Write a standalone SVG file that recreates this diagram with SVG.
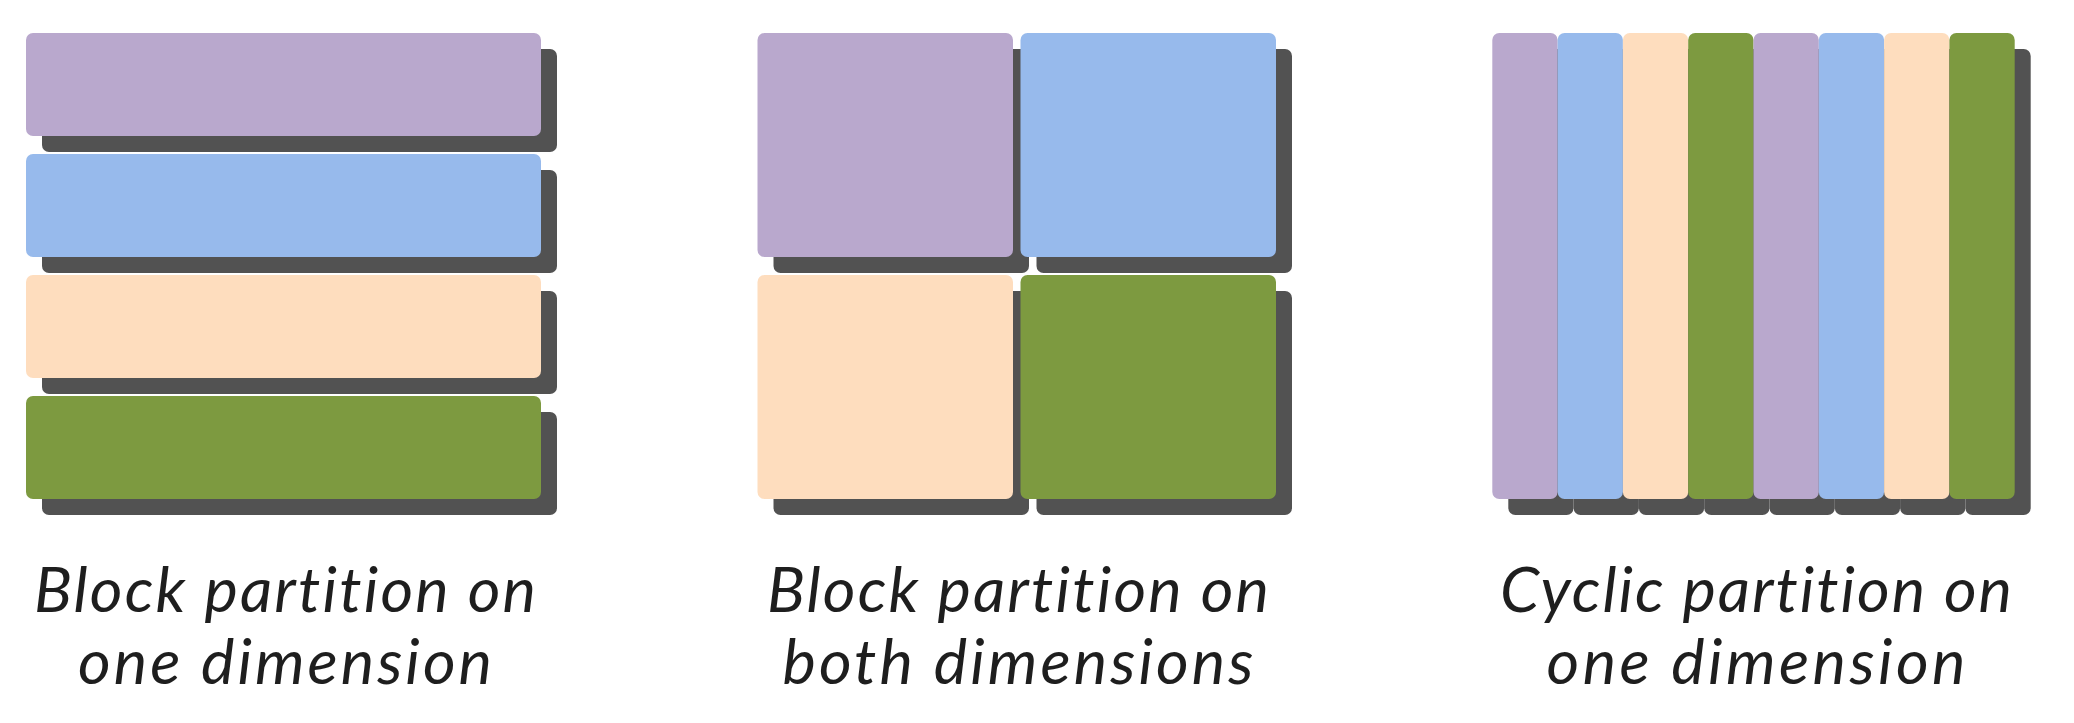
<svg xmlns="http://www.w3.org/2000/svg" width="2074" height="723" viewBox="0 0 2074 723">
<style>
.sh{fill:#525252}
.p{fill:#B9A8CD}
.b{fill:#97BAEC}
.o{fill:#FEDDBE}
.g{fill:#7D9A40}
.lbl{font-family:Lato,"Open Sans","Liberation Sans",sans-serif;font-style:italic;font-size:63px;fill:#1E1E1E;text-anchor:middle;font-variant-ligatures:none;font-feature-settings:"liga" 0,"dlig" 0}
</style>
<rect width="2074" height="723" fill="#fff"/>
<g id="panel1">
<rect class="sh" x="42" y="49" width="515" height="103" rx="7"/>
<rect class="p" x="26" y="33" width="515" height="103" rx="7"/>
<rect class="sh" x="42" y="170" width="515" height="103" rx="7"/>
<rect class="b" x="26" y="154" width="515" height="103" rx="7"/>
<rect class="sh" x="42" y="291" width="515" height="103" rx="7"/>
<rect class="o" x="26" y="275" width="515" height="103" rx="7"/>
<rect class="sh" x="42" y="412" width="515" height="103" rx="7"/>
<rect class="g" x="26" y="396" width="515" height="103" rx="7"/>
<text class="lbl" x="285" y="612" textLength="502" lengthAdjust="spacing">Block partition on</text>
<text class="lbl" x="285" y="684" textLength="414" lengthAdjust="spacing">one dimension</text>
</g>
<g id="panel2">
<rect class="sh" x="773.5" y="49" width="255.5" height="224" rx="7"/>
<rect class="sh" x="1036.5" y="49" width="255.5" height="224" rx="7"/>
<rect class="p" x="757.5" y="33" width="255.5" height="224" rx="7"/>
<rect class="b" x="1020.5" y="33" width="255.5" height="224" rx="7"/>
<rect class="sh" x="773.5" y="291" width="255.5" height="224" rx="7"/>
<rect class="sh" x="1036.5" y="291" width="255.5" height="224" rx="7"/>
<rect class="o" x="757.5" y="275" width="255.5" height="224" rx="7"/>
<rect class="g" x="1020.5" y="275" width="255.5" height="224" rx="7"/>
<text class="lbl" x="1018" y="612" textLength="502" lengthAdjust="spacing">Block partition on</text>
<text class="lbl" x="1018" y="684" textLength="471" lengthAdjust="spacing">both dimensions</text>
</g>
<g id="panel3">
<rect class="sh" x="1508.3" y="49" width="65.3" height="466" rx="7"/>
<rect class="sh" x="1573.6" y="49" width="65.3" height="466" rx="7"/>
<rect class="sh" x="1638.9" y="49" width="65.3" height="466" rx="7"/>
<rect class="sh" x="1704.2" y="49" width="65.3" height="466" rx="7"/>
<rect class="sh" x="1769.5" y="49" width="65.3" height="466" rx="7"/>
<rect class="sh" x="1834.8" y="49" width="65.3" height="466" rx="7"/>
<rect class="sh" x="1900.1" y="49" width="65.3" height="466" rx="7"/>
<rect class="sh" x="1965.4" y="49" width="65.3" height="466" rx="7"/>
<rect class="p" x="1492.3" y="33" width="65.3" height="466" rx="7"/>
<rect class="b" x="1557.6" y="33" width="65.3" height="466" rx="7"/>
<rect class="o" x="1622.9" y="33" width="65.3" height="466" rx="7"/>
<rect class="g" x="1688.2" y="33" width="65.3" height="466" rx="7"/>
<rect class="p" x="1753.5" y="33" width="65.3" height="466" rx="7"/>
<rect class="b" x="1818.8" y="33" width="65.3" height="466" rx="7"/>
<rect class="o" x="1884.1" y="33" width="65.3" height="466" rx="7"/>
<rect class="g" x="1949.4" y="33" width="65.3" height="466" rx="7"/>
<text class="lbl" x="1756" y="612" textLength="512" lengthAdjust="spacing">Cyclic partition on</text>
<text class="lbl" x="1756" y="684" textLength="419" lengthAdjust="spacing">one dimension</text>
</g>
<g id="connectors"/>
</svg>
